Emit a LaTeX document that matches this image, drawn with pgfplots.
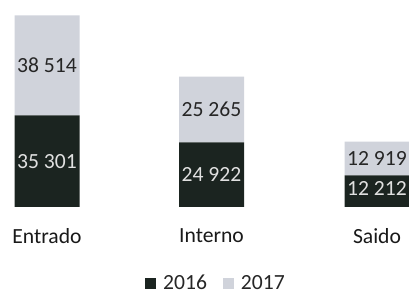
\documentclass[border=0pt]{standalone}
\usepackage{pgfplots}
\pgfplotsset{compat=1.18}
\usepackage{fontspec}
\setmainfont{Carlito}
\definecolor{dk}{RGB}{27,36,32}
\definecolor{lt}{RGB}{208,211,219}
\newcommand{\bigf}{\fontsize{21.7}{26}\selectfont}
\begin{document}
\begin{tikzpicture}
\useasboundingbox (0,0) rectangle (409bp,295bp);
\pgfplotsset{base/.style={at={(0bp,88bp)}, anchor=south west, scale only axis,
  width=409bp, height=207bp, xmin=0, xmax=409, ymin=0, ymax=79700,
  axis line style={draw=none}, ytick=\empty, xtick style={draw=none}}}
\begin{axis}[base, ybar stacked, bar width=65bp,
  xtick={47,211.5,377}, xticklabels={Entrado,Interno,Saido},
  xticklabel style={font=\bigf, text=black!90, yshift=-18bp},
  legend columns=2,
  legend style={at={(0.528,-0.368)}, anchor=center, draw=none, font=\bigf,
    text=black!85, /tikz/every even column/.append style={column sep=14bp}},
  legend image code/.code={\fill[#1] (0bp,-5.5bp) rectangle (11bp,5.5bp); \path (16bp,0bp);}]
\addplot[fill=dk, draw=none] coordinates {(47,35301) (211.5,24922) (377,12212)};
\addplot[fill=lt, draw=none] coordinates {(47,38514) (211.5,25265) (377,12919)};
\legend{2016,2017}
\end{axis}
\begin{axis}[base, xtick=\empty, nodes near coords, point meta=explicit symbolic]
\addplot[draw=none, mark=none, nodes near coords style={anchor=center, font=\bigf, text=white!88!black}]
  coordinates {(47,17650.5) [35 301] (211.5,12461) [24 922] (377,7300) [12 212]};
\addplot[draw=none, mark=none, nodes near coords style={anchor=center, font=\bigf, text=black!85}]
  coordinates {(47,54558) [38 514] (211.5,37554.5) [25 265] (377,18671.5) [12 919]};
\end{axis}
\end{tikzpicture}
\end{document}
